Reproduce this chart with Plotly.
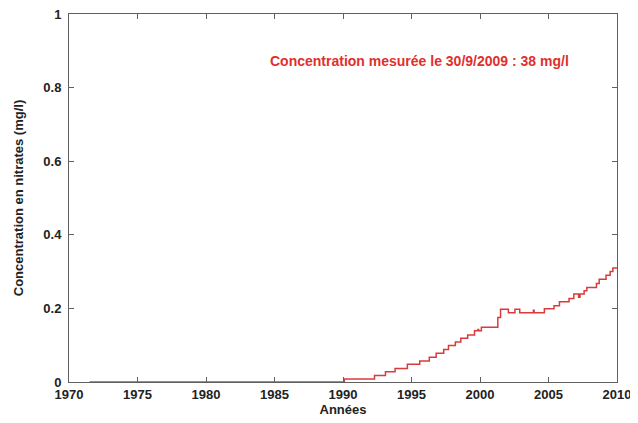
import plotly.graph_objects as go

years = [1971.5, 1990.1, 1992.3, 1993.1, 1993.8, 1994.7, 1995.6, 1996.3, 1996.8,
         1997.35, 1997.7, 1998.2, 1998.6, 1999.1, 1999.6, 1999.85, 1999.9, 2000.1,
         2001.1, 2001.3, 2001.5, 2002.07, 2002.55, 2002.9, 2003.9, 2003.95,
         2004.7, 2005.4, 2005.8, 2006.5, 2006.85, 2007.2, 2007.3, 2007.6, 2007.8,
         2008.5, 2008.7, 2009.2, 2009.5, 2009.7, 2010.0]
conc = [0.0, 0.008, 0.018, 0.028, 0.037, 0.048, 0.057, 0.067, 0.078,
        0.088, 0.099, 0.109, 0.119, 0.128, 0.139, 0.143, 0.139, 0.149,
        0.149, 0.175, 0.198, 0.188, 0.198, 0.188, 0.195, 0.188,
        0.199, 0.207, 0.218, 0.227, 0.239, 0.23, 0.239, 0.248, 0.257,
        0.268, 0.279, 0.29, 0.30, 0.31, 0.31]

x_ticks = [1970, 1975, 1980, 1985, 1990, 1995, 2000, 2005, 2010]
y_ticks = [0, 0.2, 0.4, 0.6, 0.8, 1]
y_tick_labels = ["0", "0.2", "0.4", "0.6", "0.8", "1"]

fig = go.Figure()
fig.add_trace(go.Scatter(x=years, y=conc, mode="lines", line_shape="hv",
                         line=dict(color="#d93b3b", width=1.5), showlegend=False))

fig.add_annotation(x=1995.6, y=0.872, xref="x", yref="y",
                   text="Concentration mesurée le 30/9/2009 : 38 mg/l",
                   showarrow=False,
                   font=dict(family="Liberation Sans, Arial", size=14, color="#e0302c", weight="bold"))

axis_common = dict(showgrid=False, zeroline=False, showline=True, linecolor="#606060",
                   linewidth=1, ticks="inside", ticklen=5, tickcolor="#606060",
                   mirror="ticks", automargin=False, ticklabeloverflow="allow",
                   tickfont=dict(family="Liberation Sans, Arial", size=13, color="#222", weight="bold"))

# the page body has an 8px default margin, so the figure is sized to fit the window
fig.update_layout(
    width=630, height=415,
    margin=dict(l=61, r=21, t=6, b=41),
    plot_bgcolor="white", paper_bgcolor="white",
    xaxis=dict(range=[1970, 2010], tickvals=x_ticks, **axis_common,
               title=dict(text="Années", standoff=4,
                          font=dict(family="Liberation Sans, Arial", size=13, color="#222", weight="bold"))),
    yaxis=dict(range=[0, 1], tickvals=y_ticks, ticktext=y_tick_labels, **axis_common,
               ticklabelstandoff=4,
               title=dict(text="Concentration en nitrates (mg/l)", standoff=16,
                          font=dict(family="Liberation Sans, Arial", size=13, color="#222", weight="bold"))),
)

fig.write_html("out.html")
